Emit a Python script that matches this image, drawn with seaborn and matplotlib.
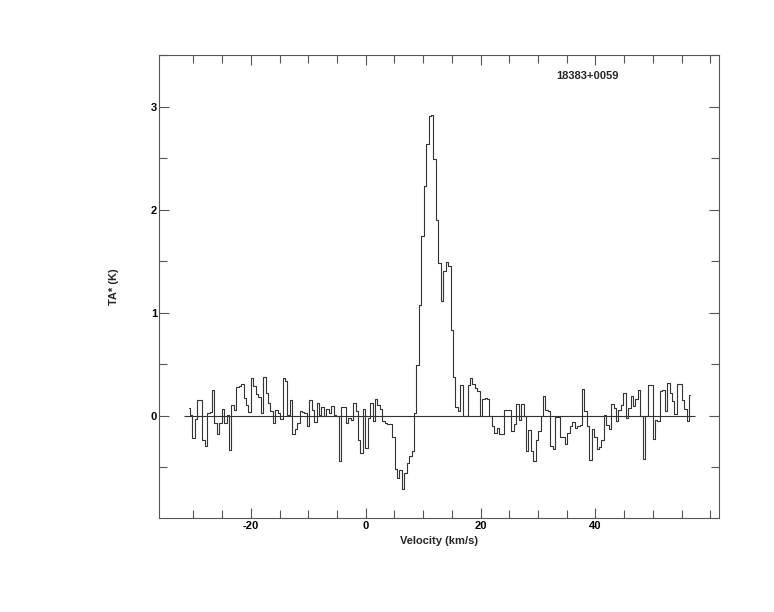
import numpy as np
import pandas as pd
import seaborn as sns
import matplotlib.pyplot as plt
from matplotlib.ticker import FixedLocator

source_name = "18383+0059"

# channel centres of first and last channel (km/s)
v_first = -30.8
v_last = 56.5

# antenna temperature per channel (K)
ta = [
    0.08, 0.01, -0.21, -0.03, 0.155, 0.155, -0.23, -0.29, 0.03, 0.035,
    0.25, -0.07, -0.18, -0.07, 0.07, -0.07, 0.01, -0.33, 0.11, 0.06,
    0.28, 0.29, 0.31, 0.17, 0.11, 0.04, 0.37, 0.29, 0.21, 0.18,
    0.03, 0.38, 0.22, 0.13, 0.045, -0.07, 0.055, 0.03, -0.03, 0.37,
    0.34, 0.01, 0.15, -0.18, -0.13, -0.07, 0.045, 0.04, 0.03, -0.1,
    0.15, 0.06, -0.06, 0.13, 0.01, 0.09, 0.0, 0.07, 0.03, 0.1,
    0.01, 0.0, -0.44, 0.09, 0.09, -0.07, -0.02, -0.035, 0.13, 0.045,
    -0.23, -0.36, 0.07, -0.31, -0.02, 0.125, -0.045, 0.165, 0.11, 0.07,
    -0.05, -0.07, -0.075, -0.08, -0.2, -0.51, -0.6, -0.52, -0.71, -0.55,
    -0.46, -0.39, -0.34, 0.03, 0.49, 1.08, 1.74, 2.23, 2.64, 2.91,
    2.92, 2.49, 1.9, 1.48, 1.11, 1.41, 1.49, 1.45, 0.83, 0.38,
    0.09, 0.045, 0.3, -0.005, 0.0, 0.3, 0.37, 0.31, 0.27, 0.24,
    -0.005, 0.16, 0.175, 0.16, 0.0, -0.1, -0.165, -0.115, -0.18, -0.18,
    0.06, 0.06, 0.06, -0.15, -0.08, 0.12, -0.035, 0.12, 0.0, -0.34,
    -0.14, -0.34, -0.44, -0.23, -0.15, 0.0, 0.19, 0.055, 0.045, -0.29,
    -0.32, -0.01, -0.01, -0.2, -0.2, -0.27, -0.165, -0.1, -0.06, -0.115,
    -0.1, -0.09, 0.26, 0.05, -0.1, -0.43, -0.13, -0.2, -0.32, -0.30,
    -0.23, 0.005, -0.09, -0.125, 0.115, 0.08, -0.05, 0.055, 0.11, 0.22,
    -0.02, 0.08, 0.19, 0.1, 0.16, 0.255, 0.0, -0.42, 0.0, 0.3,
    0.3, -0.22, -0.035, -0.045, 0.245, 0.255, 0.05, 0.32, 0.22, 0.14,
    0.02, 0.31, 0.31, 0.15, 0.07, -0.045, 0.2,
]

x_major = [-20, 0, 20, 40]
x_minor = [-30, -25, -15, -10, -5, 5, 10, 15, 25, 30, 35, 45, 50, 55, 60]
y_major = [0, 1, 2, 3]
y_minor = [-0.5, 0.5, 1.5, 2.5, 3.5]

velocity = np.linspace(v_first, v_last, len(ta))
df = pd.DataFrame({"Velocity": velocity, "TA": ta})

sns.set_style("ticks")
plt.rcParams['font.family'] = ['Liberation Sans', 'DejaVu Sans']
plt.rcParams['font.weight'] = 'bold'
plt.rcParams['axes.unicode_minus'] = False

fig = plt.figure(figsize=(7.74, 6.12), dpi=100)
ax = fig.add_axes([0.2054, 0.1536, 0.7235, 0.7565])

sns.lineplot(data=df, x="Velocity", y="TA", drawstyle="steps-mid",
             estimator=None, color="#333333", linewidth=0.8, ax=ax)
dv = velocity[1] - velocity[0]
ax.hlines(0, velocity[0] - 2 * dv, velocity[-1] + 2 * dv, color="#333333", linewidth=0.8)

ax.set_xlim(-36, 61.5)
ax.set_ylim(-0.99, 3.5)

ax.xaxis.set_major_locator(FixedLocator(x_major))
ax.xaxis.set_minor_locator(FixedLocator(x_minor))
ax.yaxis.set_major_locator(FixedLocator(y_major))
ax.yaxis.set_minor_locator(FixedLocator(y_minor))

ax.tick_params(which='both', direction='in', top=True, right=True,
               colors='#555555', labelcolor='black', labelsize=8)
ax.tick_params(which='major', length=7, width=0.8)
ax.tick_params(which='minor', length=5.5, width=0.8)
ax.tick_params(axis='x', which='major', pad=2.5)
ax.tick_params(axis='y', which='major', pad=1.5)

for s in ax.spines.values():
    s.set_color('#555555')
    s.set_linewidth(0.8)

ax.set_xlabel("Velocity (km/s)", fontsize=8, fontweight='bold', labelpad=3)
ax.set_ylabel("TA* (K)", fontsize=8, fontweight='bold', labelpad=23)
ax.text(0.766, 0.955, source_name, transform=ax.transAxes, ha='center',
        va='center', fontsize=8, fontweight='bold')

fig.savefig("out.png", dpi=100)
